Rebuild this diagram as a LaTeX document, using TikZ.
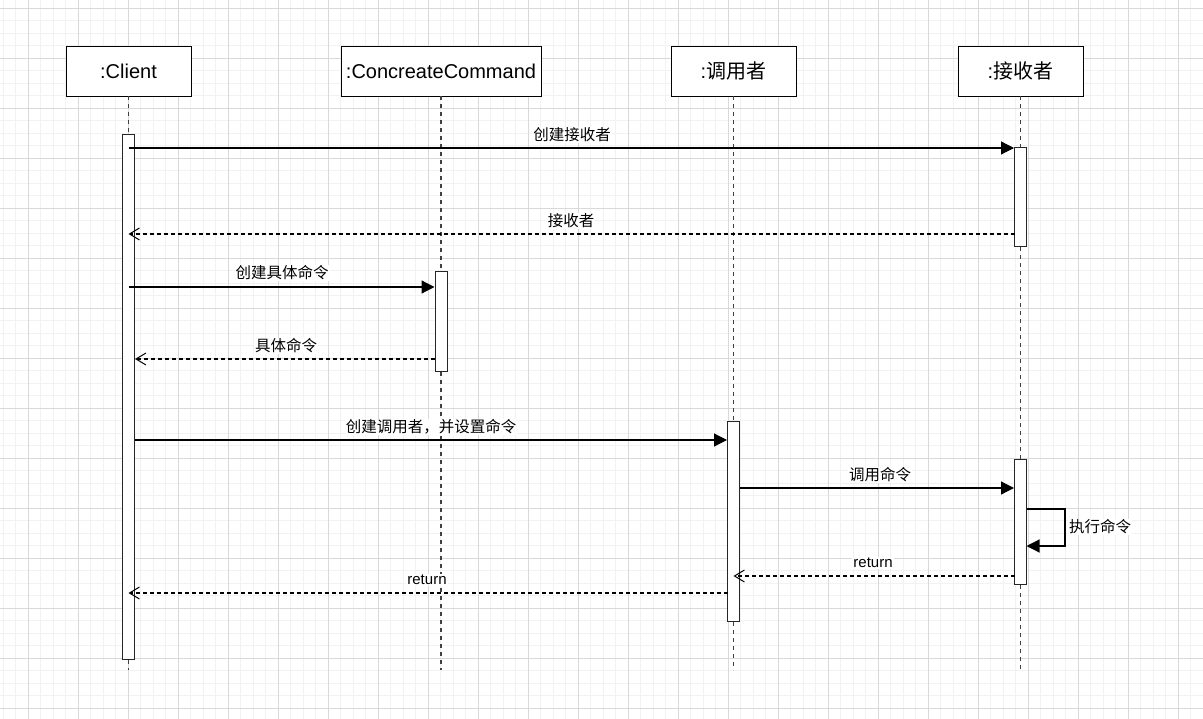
\documentclass[tikz,border=0pt]{standalone}
\usepackage{fontspec}
\setmainfont{Liberation Sans}
\newfontfamily\cjk{Noto Sans CJK SC}
\usetikzlibrary{arrows.meta}

\tikzset{
  minorgrid/.style={draw=black!5, line width=0.6pt},
  majorgrid/.style={draw=black!15, line width=0.8pt},
  head/.style={draw=black, fill=white, line width=0.9pt, minimum width=125pt,
    minimum height=50pt, inner sep=0pt, font=\fontsize{20}{24}\selectfont},
  lifeline/.style={draw=black!75, line width=1.1pt, dash pattern=on 4pt off 4pt},
  actbar/.style={draw=black!85, fill=white, line width=1pt, minimum width=12pt,
    inner sep=0pt, anchor=north},
  callmsg/.style={draw=black, line width=1.2pt, -{Triangle[length=13pt,width=13pt]}},
  replymsg/.style={draw=black, line width=1.1pt, dash pattern=on 4pt off 3pt,
    -{Straight Barb[length=10pt,width=12pt,line width=1pt]}},
  msglabel/.style={fill=white, inner sep=1pt, font=\fontsize{15.5}{18}\selectfont\cjk}
}

\begin{document}
\begin{tikzpicture}[x=1pt, y=-1pt]
  % page and background grid
  \useasboundingbox (0,0) rectangle (1203,719);
  \fill[white] (0,0) rectangle (1203,719);
  \foreach \k in {-2,...,94} \draw[minorgrid] ({28+12.5*\k},0) -- ({28+12.5*\k},719);
  \foreach \k in {0,...,56} \draw[minorgrid] (0,{8+12.5*\k}) -- (1203,{8+12.5*\k});
  \foreach \k in {0,...,23} \draw[majorgrid] ({28+50*\k},0) -- ({28+50*\k},719);
  \foreach \k in {0,...,14} \draw[majorgrid] (0,{8+50*\k}) -- (1203,{8+50*\k});

  % participant heads
  \node[head] (cl) at (128.5,71) {:Client};
  \node[head, minimum width=200pt] (cc) at (441,71) {:ConcreateCommand};
  \node[head] (inv) at (733.5,71) {:{\cjk 调用者}};
  \node[head] (rcv) at (1020.5,71) {:{\cjk 接收者}};

  % activation bars
  \node[actbar, minimum height=525pt] (clA) at (128.5,134) {};
  \node[actbar, minimum height=100pt] (ccA) at (441,271) {};
  \node[actbar, minimum height=200pt] (invA) at (733.5,421) {};
  \node[actbar, minimum height=99pt] (rA1) at (1020.5,147) {};
  \node[actbar, minimum height=125pt] (rA2) at (1020.5,459) {};

  % lifeline ends
  \coordinate (clE) at (128.5,670);
  \coordinate (ccE) at (441,670);
  \coordinate (invE) at (733.5,670);
  \coordinate (rcvE) at (1020.5,670);

  % lifelines, broken by the activation bars
  \draw[lifeline] (cl.south) -- (clA.north);
  \draw[lifeline] (clA.south) -- (clE);
  \draw[lifeline] (cc.south) -- (ccA.north);
  \draw[lifeline] (ccA.south) -- (ccE);
  \draw[lifeline] (inv.south) -- (invA.north);
  \draw[lifeline] (invA.south) -- (invE);
  \draw[lifeline] (rcv.south) -- (rA1.north);
  \draw[lifeline] (rA1.south) -- (rA2.north);
  \draw[lifeline] (rA2.south) -- (rcvE);

  % message anchors
  \coordinate (m1) at (128.5,148);
  \coordinate (m2) at (1015,234);
  \coordinate (m3) at (128.5,287);
  \coordinate (m4) at (435,359);
  \coordinate (m5) at (134.5,440);
  \coordinate (m6) at (740,488);
  \coordinate (m8) at (1015,576);
  \coordinate (m9) at (727.5,593);
  \coordinate (s1) at (1026.5,509);
  \coordinate (s2) at (1065,509);
  \coordinate (s3) at (1065,546);
  \coordinate (s4) at (1026.5,546);

  % messages
  \draw[callmsg] (m1) -- (rA1.west |- m1);
  \draw[replymsg] (m2) -- (clA |- m2);
  \draw[callmsg] (m3) -- (ccA.west |- m3);
  \draw[replymsg] (m4) -- (clA.east |- m4);
  \draw[callmsg] (m5) -- (invA.west |- m5);
  \draw[callmsg] (m6) -- (rA2.west |- m6);
  \draw[callmsg] (s1) -- (s2) -- (s3) -- (s4);
  \draw[replymsg] (m8) -- (invA |- m8);
  \draw[replymsg] (m9) -- (clA |- m9);

  % message labels
  \node[msglabel] (l1) at (572,135) {创建接收者};
  \node[msglabel] (l2) at (571,221) {接收者};
  \node[msglabel] (l3) at (282,273) {创建具体命令};
  \node[msglabel] (l4) at (286,346) {具体命令};
  \node[msglabel] (l5) at (431,427) {创建调用者，并设置命令};
  \node[msglabel] (l6) at (880,475) {调用命令};
  \node[msglabel, anchor=west] (l7) at (1068,527) {执行命令};
  \node[msglabel, font=\fontsize{15}{18}\selectfont] (l8) at (873,563) {return};
  \node[msglabel, font=\fontsize{15}{18}\selectfont] (l9) at (427,580) {return};
\end{tikzpicture}
\end{document}
